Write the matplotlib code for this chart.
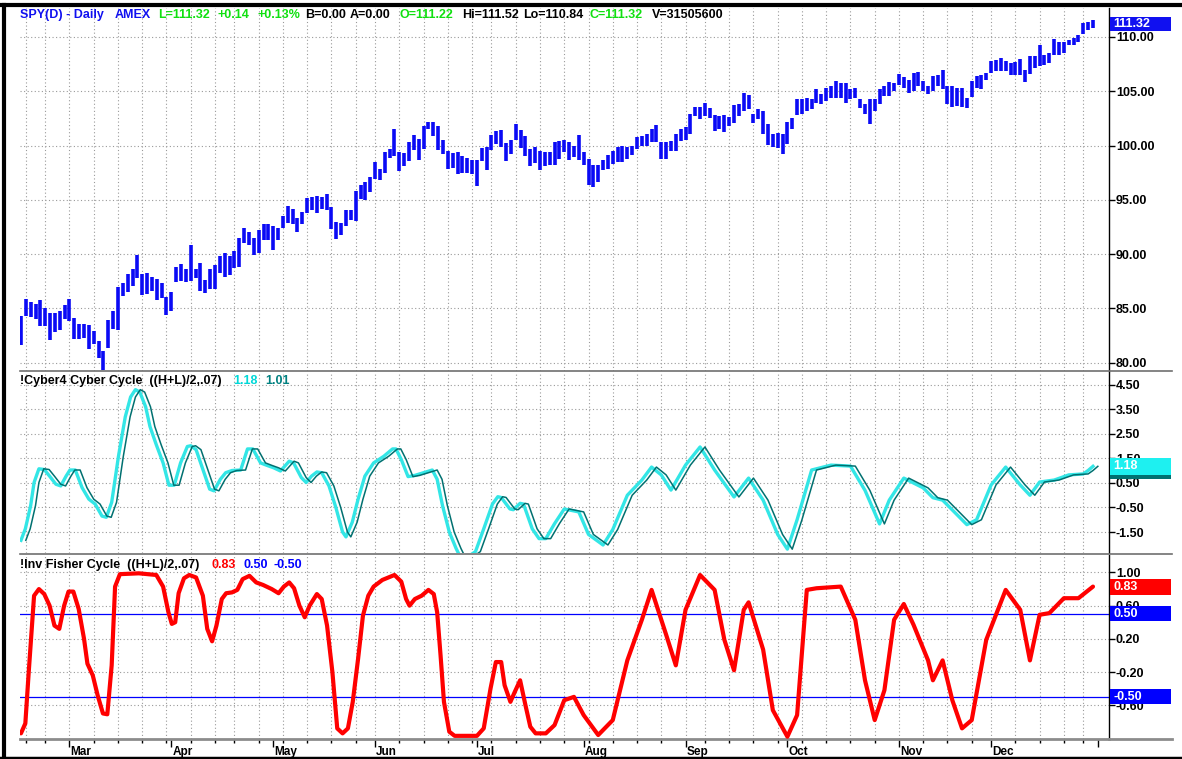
import matplotlib
matplotlib.use("Agg")
import matplotlib.pyplot as plt
import matplotlib.transforms as mtransforms
from matplotlib.patches import Rectangle
from matplotlib.lines import Line2D
import numpy as np
import pandas as pd

plt.rcParams['font.family'] = ['Liberation Sans', 'DejaVu Sans']

# ---------------- data ----------------
start_date = '2003-02-14'
end_date = '2003-12-31'
holidays = ['2003-02-17', '2003-04-18', '2003-05-26', '2003-07-04', '2003-09-01', '2003-11-27', '2003-12-25']

highs = [
    84.26, 85.85, 85.55, 85.45, 85.76, 85.03, 84.6, 84.57, 84.8, 85.3,
    85.85, 84.1, 83.6, 83.55, 83.5, 82.95, 82.0, 81.1, 83.95, 84.8,
    87.0, 87.3, 88.15, 88.6, 89.9, 88.2, 88.25, 87.9, 87.75, 87.3,
    86.1, 86.5, 88.8, 89.05, 88.6, 90.85, 88.65, 89.15, 87.6, 88.65,
    89.0, 89.85, 90.1, 89.85, 90.25, 91.5, 92.45, 92.05, 91.45, 92.2,
    92.8, 92.75, 92.6, 92.45, 93.55, 94.4, 94.2, 93.35, 93.9, 95.15,
    95.25, 95.35, 95.3, 95.5, 94.35, 93.0, 92.9, 94.05, 94.1, 95.85,
    96.4, 96.6, 97.1, 98.5, 97.85, 99.4, 99.7, 101.5, 99.4, 99.3,
    100.3, 100.95, 100.65, 101.8, 102.2, 102.2, 101.8, 100.55, 99.5, 99.3,
    99.4, 99.0, 98.85, 98.7, 98.7, 99.8, 99.9, 101.0, 101.3, 101.45,
    100.25, 100.5, 101.95, 101.45, 100.9, 99.7, 99.85, 99.5, 99.4, 99.4,
    100.35, 100.46, 100.55, 100.3, 100.0, 100.97, 99.39, 98.78, 98.18, 98.18,
    98.63, 99.09, 99.54, 99.85, 100.0, 99.85, 100.0, 100.76, 100.91, 101.06,
    101.52, 101.88, 100.3, 100.3, 100.46, 101.06, 101.52, 101.67, 102.9, 103.59,
    103.59, 103.89, 103.5, 102.8, 102.74, 102.8, 102.67, 103.71, 103.8, 104.8,
    104.62, 102.89, 103.34, 103.19, 101.98, 101.06, 101.16, 101.06, 102.19, 102.58,
    104.32, 104.26, 104.41, 104.26, 105.17, 104.71, 105.32, 105.47, 105.93, 105.78,
    105.78, 105.17, 105.32, 104.26, 103.8, 104.26, 104.26, 105.17, 105.47, 105.84,
    105.78, 106.6, 106.32, 106.08, 106.69, 106.75, 105.93, 105.53, 106.38, 106.53,
    106.99, 105.47, 105.47, 105.32, 105.32, 104.35, 105.93, 106.44, 106.53, 106.69,
    107.75, 107.84, 108.05, 107.75, 107.6, 107.66, 107.96, 106.99, 108.21, 108.21,
    109.27, 108.36, 108.51, 109.79, 109.57, 109.57, 109.73, 109.88, 110.2, 111.3,
    111.4, 111.52]

lows = [
    81.63, 84.3, 84.17, 84.0, 83.34, 83.4, 82.1, 82.85, 83.0, 84.0,
    83.8, 82.2, 82.2, 82.25, 81.3, 81.7, 80.4, 79.3, 81.4, 83.1,
    83.04, 86.15, 86.5, 87.1, 87.85, 86.25, 86.3, 86.6, 85.8, 86.0,
    84.4, 84.8, 87.4, 87.55, 87.45, 87.55, 87.85, 86.6, 86.4, 86.75,
    86.8, 88.25, 87.9, 88.1, 88.75, 88.8, 91.05, 90.85, 89.9, 90.15,
    91.35, 91.35, 90.35, 91.35, 92.45, 92.9, 92.8, 92.05, 92.75, 93.75,
    94.1, 93.75, 94.2, 94.1, 92.3, 91.4, 91.75, 92.6, 93.15, 93.05,
    95.05, 94.95, 95.7, 96.9, 96.8, 97.5, 98.9, 99.0, 97.65, 98.15,
    98.55, 99.6, 98.7, 99.7, 101.5, 100.85, 99.6, 99.2, 97.8, 97.95,
    97.4, 97.5, 97.45, 97.35, 96.25, 98.55, 97.75, 99.6, 100.1, 99.9,
    98.55, 99.25, 100.55, 99.8, 99.0, 98.1, 98.4, 97.75, 98.1, 98.25,
    98.25, 98.78, 99.39, 98.63, 98.94, 98.63, 98.18, 96.35, 96.2, 96.66,
    97.72, 97.87, 98.33, 98.48, 98.48, 98.78, 99.09, 99.7, 100.0, 100.0,
    100.3, 100.3, 98.78, 98.78, 99.54, 99.54, 100.46, 100.5, 101.1, 102.74,
    102.43, 102.74, 102.58, 101.37, 101.52, 101.28, 101.82, 102.07, 102.74, 103.19,
    103.34, 102.07, 102.43, 101.06, 100.06, 99.85, 99.76, 99.24, 100.15, 101.52,
    102.8, 102.89, 103.19, 103.34, 103.95, 103.8, 104.1, 104.41, 104.41, 104.41,
    103.95, 104.26, 104.41, 103.5, 102.89, 101.98, 103.19, 103.8, 104.56, 104.56,
    105.01, 105.62, 105.32, 104.8, 105.01, 105.47, 105.01, 104.71, 105.01, 105.47,
    105.17, 103.8, 103.59, 103.65, 103.59, 103.5, 104.5, 105.32, 105.23, 106.08,
    106.69, 106.84, 106.84, 106.84, 106.53, 106.53, 106.53, 105.84, 106.63, 107.14,
    107.3, 107.45, 107.6, 108.36, 108.36, 108.51, 109.27, 109.27, 109.5, 110.3,
    110.6, 110.84]

# Cyber Cycle: (position in bars, value)
cyc_pos = [0, 0.9, 2, 2.7, 3.7, 4.8, 5.9, 7.2, 8.2, 9.3, 10.1, 11.2, 12.6, 14, 15.3, 16.7, 17.6, 18.7, 20.1, 21.5,
           22.6, 23.6, 24.5, 25.7, 26.6, 27.9, 29.3, 30.5, 31.6, 32.9, 34.3, 35, 36.1, 37.5, 38.9, 39.8, 41.1, 42.2, 43.5, 45.3,
           46.7, 47.8, 49.4, 50.7, 52.1, 53.5, 55.3, 56.2, 57.8, 58.8, 59.9, 61, 62, 63.5, 64.9, 66.3, 67, 68.3, 69.5, 70.9,
           72.7, 74.8, 76.6, 77.3, 78.4, 79.8, 81.2, 83, 84.8, 85.8, 86.9, 88.3, 89.7, 90.4, 92.6, 93.7, 95.4, 97.2, 98.3, 99,
           100.8, 101.5, 102.9, 103.6, 105.4, 106.8, 108.2, 110,
           112, 115, 117, 120, 122, 125, 128, 130, 132, 134,
           137, 140, 143, 147, 150, 153, 156, 158, 160, 163, 167, 171, 174, 177, 179, 182, 186, 188, 190, 193,
           195, 197, 200, 203, 206, 208, 210, 213, 216, 219, 220, 221]
cyc_val = [-1.84, -1.37, -0.42, 0.52, 1.08, 1.05, 0.78, 0.45, 0.38, 0.78, 1.03, 1.03, 0.31, -0.16, -0.36, -0.85, -0.9, -0.29, 1.59, 3.2,
           4.01, 4.31, 4.21, 3.61, 2.8, 2.06, 1.32, 0.41, 0.41, 1.32, 1.99, 2.02, 1.86, 1.05, 0.25, 0.18, 0.65, 0.92, 1.01, 1.03,
           1.89, 1.89, 1.32, 1.22, 1.12, 0.99, 1.39, 1.32, 0.72, 0.52, 0.78, 0.95, 0.92, 0.38, -0.49, -1.5, -1.7, -1.1, -0.16, 0.78,
           1.32, 1.59, 1.89, 1.89, 1.46, 0.76, 0.81, 0.92, 1.03, 0.65, -0.42, -1.5, -2.17, -2.45, -2.45, -2.3, -1.37, -0.36, -0.06, -0.09,
           -0.56, -0.59, -0.33, -0.36, -1.37, -1.77, -1.77, -1.16,
           -0.56, -0.68, -1.6, -2.03, -1.4, 0.0, 0.62, 1.15, 0.83, 0.21,
           1.23, 1.97, 1.03, -0.07, 0.7, -0.2, -1.6, -2.2, -1.0, 1.03, 1.23, 1.19, 0.2, -1.17, -0.2, 0.7, 0.3, -0.1, -0.2, -0.8,
           -1.2, -1.0, 0.42, 1.15, 0.42, 0.0, 0.54, 0.62, 0.83, 0.87, 1.01, 1.18]

# Inverse Fisher: (position in bars, value)
fish_pos = [0, 0.9, 1.6, 2.7, 3.7, 4.8, 5.9, 6.9, 7.9, 8.9, 9.8, 10.8, 11.9, 13, 13.7, 14.8, 15.8, 16.9, 17.8, 18.7,
            19.4, 20.4, 24.3, 27.9, 29.3, 30.4, 31.1, 31.8, 32.5, 33.6, 34.7, 36.1, 37.5, 38.4, 39.4, 40.3, 41.4, 42.3, 43.5, 44.6,
            45.7, 47.1, 48.5, 49.9, 51.7, 53.1, 54.2, 55.3, 56.3, 57.4, 58.5, 59.5, 61, 62, 63.1, 64.2, 65.2, 66.3, 67.4, 68.4,
            69.5, 70.5, 71.6, 72.7, 74.5, 77, 78.4, 79.4, 80.1, 81.2, 82.6, 84, 85.1, 85.8, 86.5, 87.2, 88.3, 89.4, 94, 95.4,
            96.8, 97.9, 99, 99.7, 100.9, 101.8, 102.9, 104, 105, 106.1, 108.2, 110,
            112, 114, 116, 119, 122,
            125, 128, 130, 133, 135, 137, 140, 143, 145, 147, 149, 150, 153, 155, 158, 160, 162, 164, 169, 172,
            174, 176, 178, 180, 182, 184, 187, 188, 190, 192, 194, 196, 199, 203, 206, 208, 210, 212, 215, 218, 221]
fish_val = [-0.94, -0.82, -0.2, 0.72, 0.8, 0.74, 0.6, 0.36, 0.32, 0.6, 0.77, 0.77, 0.56, 0.2, -0.1, -0.24, -0.48, -0.7, -0.71, -0.12,
            0.83, 0.98, 0.99, 0.97, 0.83, 0.52, 0.38, 0.4, 0.75, 0.93, 0.97, 0.94, 0.72, 0.32, 0.17, 0.36, 0.68, 0.75, 0.76, 0.79,
            0.92, 0.96, 0.88, 0.85, 0.8, 0.75, 0.83, 0.88, 0.81, 0.6, 0.46, 0.6, 0.74, 0.68, 0.36, -0.2, -0.88, -0.94, -0.88, -0.56,
            -0.04, 0.48, 0.72, 0.83, 0.91, 0.97, 0.89, 0.68, 0.6, 0.68, 0.72, 0.79, 0.74, 0.52, 0.0, -0.56, -0.92, -0.97, -0.97, -0.88,
            -0.4, -0.08, -0.08, -0.36, -0.56, -0.44, -0.3, -0.6, -0.86, -0.94, -0.94, -0.84,
            -0.54, -0.5, -0.72, -0.96, -0.78,
            -0.06, 0.43, 0.79, 0.25, -0.12, 0.55, 0.97, 0.79, 0.19, -0.18, 0.55, 0.64, 0.07, -0.66, -0.98, -0.72, 0.79, 0.81, 0.83, 0.43,
            -0.3, -0.78, -0.42, 0.43, 0.62, 0.37, -0.06, -0.3, -0.06, -0.54, -0.88, -0.78, 0.19, 0.79, 0.55, -0.06, 0.49, 0.51, 0.69, 0.69, 0.83]

fisher_levels = [0.5, -0.5]

price_ticks = [80, 85, 90, 95, 100, 105, 110]
cyc_ticks = [-1.5, -0.5, 0.5, 1.5, 2.5, 3.5, 4.5]
fish_ticks = [-0.6, -0.2, 0.2, 0.6, 1.0]
month_labels = ['Mar', 'Apr', 'May', 'Jun', 'Jul', 'Aug', 'Sep', 'Oct', 'Nov', 'Dec']

header1 = [('SPY(D) - Daily', '#1010F0'), ('AMEX', '#1010F0'), ('L=111.32', '#10E010'),
           ('+0.14', '#10E010'), ('+0.13%', '#10E010'), ('B=0.00', 'black'), ('A=0.00', 'black'),
           ('O=111.22', '#10E010'), ('Hi=111.52', 'black'), ('Lo=110.84', 'black'),
           ('C=111.32', '#10E010'), ('V=31505600', 'black')]
header1_x = [20, 115, 158, 218, 257, 305, 350, 400, 462, 523, 590, 652]
header2 = [('!Cyber4 Cyber Cycle  ((H+L)/2,.07)', 'black'), ('1.18', '#00D8D8'), ('1.01', '#008080')]
header2_x = [20, 233, 265]
header3 = [('!Inv Fisher Cycle  ((H+L)/2,.07)', 'black'), ('0.83', '#FF0000'), ('0.50', '#0000FF'), ('-0.50', '#0000FF')]
header3_x = [20, 211, 243, 273]

# ---------------- derived positions ----------------
n = len(highs)
dates = pd.bdate_range(start_date, end_date)
dates = dates[~dates.isin(pd.to_datetime(holidays))][:n]
idx = np.arange(n)
wk = [d.isocalendar()[1] for d in dates]
week_starts = [i for i in range(1, len(dates)) if wk[i] != wk[i - 1]]
month_starts = [i for i in range(1, len(dates)) if dates[i].month != dates[i - 1].month]
month_starts_all = month_starts + [n]  # next month (Jan) tick position

W, H = 1182, 759
fig = plt.figure(figsize=(W / 100, H / 100), dpi=100)


def fx(px):
    return px / W


def fy(py):
    return 1 - py / H


left_px, right_px = 20, 1109
xlim = (-0.2, 224.3)

ax1 = fig.add_axes([fx(left_px), fy(371), fx(right_px - left_px), (371 - 8) / H])
ax2 = fig.add_axes([fx(left_px), fy(553), fx(right_px - left_px), (553 - 372) / H])
ax3 = fig.add_axes([fx(left_px), fy(739), fx(right_px - left_px), (739 - 555) / H])

ax1.set_ylim(79.24, 112.67)
ax2.set_ylim(-2.357, 5.03)
ax3.set_ylim(-1.008, 1.211)

grid_kw = dict(color='#9a9a9a', linestyle=(0, (1, 2.2)), linewidth=0.8, zorder=0)
tick_font = dict(fontsize=9, fontweight='bold', color='black')

for ax, ticks, fmt in [(ax1, price_ticks, '{:.2f}'), (ax2, cyc_ticks, '{:.2f}'), (ax3, fish_ticks, '{:.2f}')]:
    ax.set_xlim(*xlim)
    for s in ['top', 'left', 'bottom']:
        ax.spines[s].set_visible(False)
    ax.spines['right'].set_color('black')
    ax.spines['right'].set_linewidth(1.0)
    ax.yaxis.tick_right()
    ax.set_yticks(ticks)
    ax.set_yticklabels([fmt.format(t) for t in ticks], **tick_font)
    ax.tick_params(axis='y', direction='out', length=4, width=1, pad=1, colors='black')
    ax.set_xticks([])
    for t in ticks:
        ax.axhline(t, **grid_kw)
    for w in week_starts:
        ax.axvline(w, **grid_kw)
    ax.patch.set_alpha(0)

# price bars
ax1.vlines(idx, lows, highs, color='#0A0AF5', linewidth=2.6, zorder=3)

# cyber cycle and its trigger (trigger = cycle one bar earlier)
cyc_pos_a = np.array(cyc_pos)
ax2.plot(cyc_pos_a, cyc_val, color='#33E6E6', linewidth=2.4, zorder=3, solid_joinstyle='round')
ax2.plot(cyc_pos_a + 1, cyc_val, color='#007070', linewidth=1.1, zorder=4, solid_joinstyle='round')

# inverse fisher
for lv in fisher_levels:
    ax3.axhline(lv, color='#0000FF', linewidth=0.9, zorder=2)
ax3.plot(fish_pos, fish_val, color='#FF0000', linewidth=3.0, zorder=3, solid_joinstyle='round', solid_capstyle='round')

# bottom date axis
ax3.set_xticks(month_starts_all)
ax3.set_xticklabels(month_labels[:len(month_starts)] + [''], ha='left', fontsize=8.5, fontweight='bold')
ax3.set_xticks(week_starts, minor=True)
ax3.tick_params(axis='x', which='major', direction='out', length=6, width=1, pad=-1, colors='black')
ax3.tick_params(axis='x', which='minor', direction='out', length=3, width=1, colors='black')
ax3.spines['bottom'].set_visible(True)
ax3.spines['bottom'].set_color('#8c8c8c')
ax3.spines['bottom'].set_linewidth(2)
for lbl in ax3.get_xticklabels():
    lbl.set_transform(lbl.get_transform() + mtransforms.ScaledTranslation(1 / 100, 0, fig.dpi_scale_trans))


# value boxes on the right axis
def value_box(ax, value, text, color, height_px, tcolor='white', z=5):
    trans = mtransforms.blended_transform_factory(ax.transAxes, ax.transData)
    y0, y1 = ax.get_ylim()
    ax_h_px = ax.get_position().height * H
    h = height_px * (y1 - y0) / ax_h_px
    wfrac = 61 / (right_px - left_px)
    r = Rectangle((1.001, value - h / 2), wfrac, h, transform=trans, facecolor=color,
                  edgecolor='none', clip_on=False, zorder=z)
    ax.add_patch(r)
    if text:
        ax.text(1.004, value, text, transform=trans, color=tcolor, fontsize=9, fontweight='bold',
                va='center', ha='left', clip_on=False, zorder=z + 1)


value_box(ax1, 111.2, '111.32', '#1010F0', 14)
value_box(ax2, cyc_val[-2], '', '#007070', 17, z=5)
value_box(ax2, cyc_val[-1], '1.18', '#1EF0F0', 17, z=7)
value_box(ax3, fish_val[-1], '0.83', '#FF0000', 16)
value_box(ax3, fisher_levels[0], '0.50', '#0000FF', 15)
value_box(ax3, fisher_levels[1], '-0.50', '#0000FF', 15)

# headers
for (txt, col), xp in zip(header1, header1_x):
    fig.text(fx(xp), fy(15), txt, color=col, fontsize=9, fontweight='bold', va='center', ha='left')
for (txt, col), xp in zip(header2, header2_x):
    fig.text(fx(xp), fy(381), txt, color=col, fontsize=9, fontweight='bold', va='center', ha='left')
for (txt, col), xp in zip(header3, header3_x):
    fig.text(fx(xp), fy(565), txt, color=col, fontsize=9, fontweight='bold', va='center', ha='left')

# panel separators and frame
for py in [371, 554]:
    fig.add_artist(Line2D([fx(20), fx(1172)], [fy(py), fy(py)], color='#707070', linewidth=1.2))
fig.add_artist(Line2D([fx(1109), fx(1172)], [fy(739), fy(739)], color='#8c8c8c', linewidth=2))
fig.add_artist(Line2D([0, 1], [fy(5), fy(5)], color='black', linewidth=3))
fig.add_artist(Line2D([fx(4), fx(4)], [0, fy(5)], color='black', linewidth=3))
fig.add_artist(Line2D([0, 1], [fy(757.5), fy(757.5)], color='black', linewidth=2.5))

fig.savefig('out.png', dpi=100)
